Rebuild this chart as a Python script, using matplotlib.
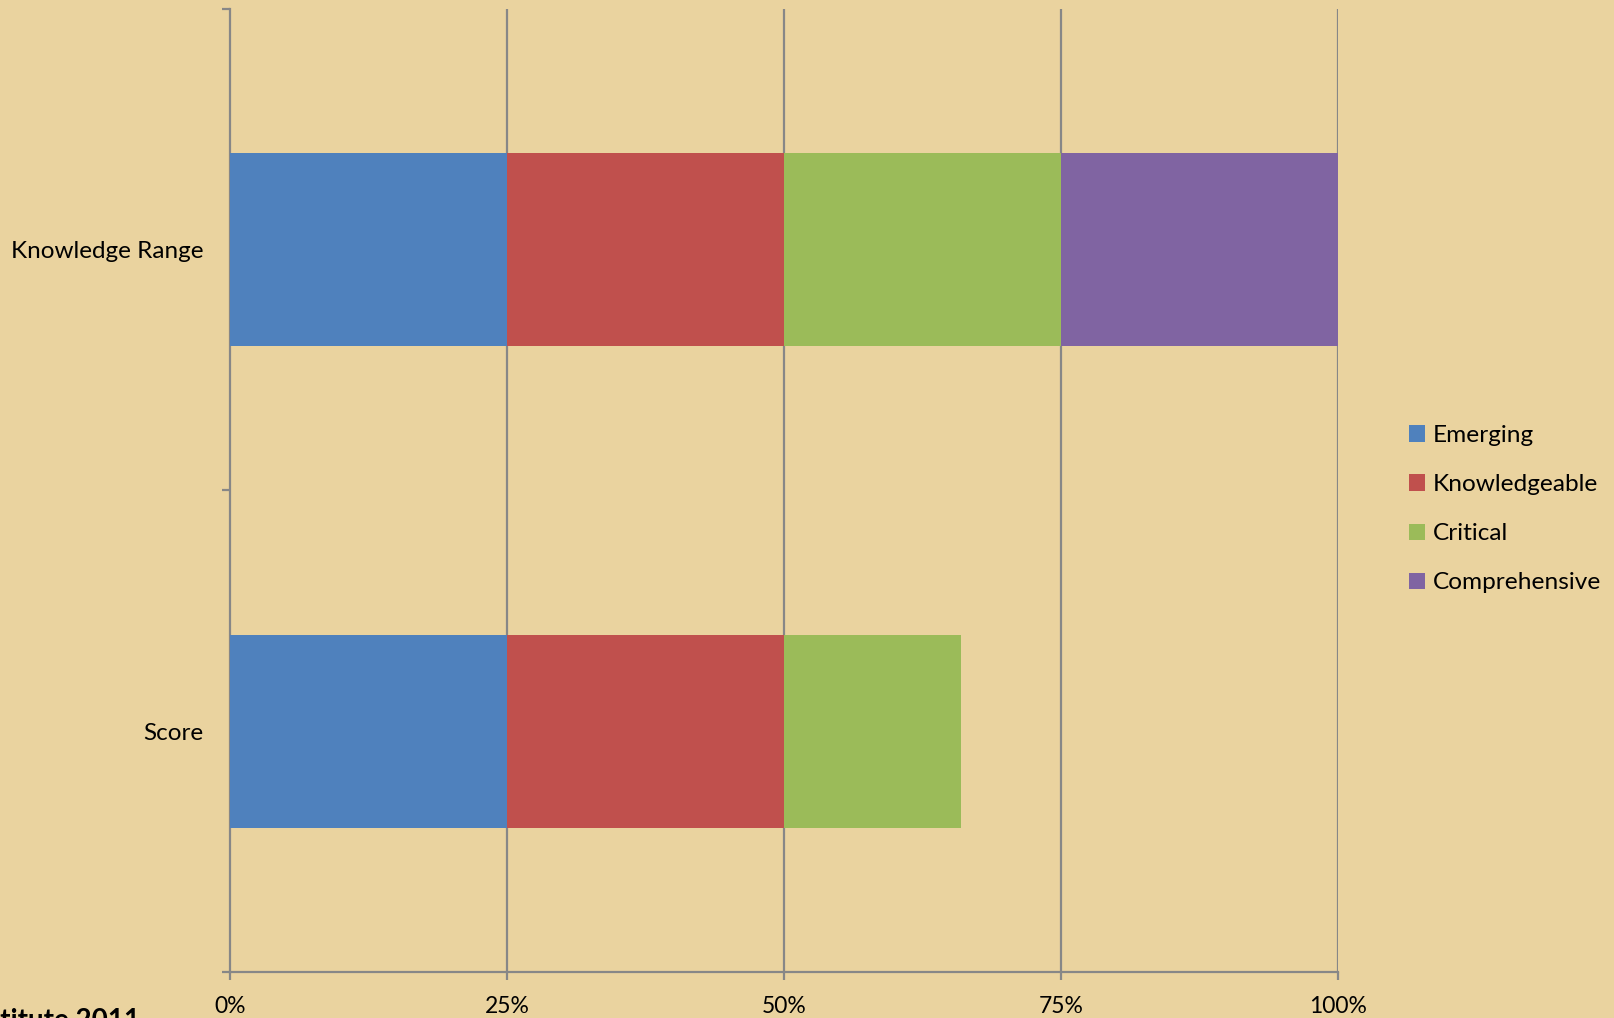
import matplotlib
matplotlib.use('Agg')
import matplotlib.pyplot as plt
import numpy as np

# data
categories = ['Score', 'Knowledge Range']
series = ['Emerging', 'Knowledgeable', 'Critical', 'Comprehensive']
emerging = [25, 25]
knowledgeable = [25, 25]
critical = [16, 25]
comprehensive = [0, 25]
colors = ['#4F81BD', '#C0504D', '#9BBB59', '#8064A2']
xticks = [0, 25, 50, 75, 100]
xtick_labels = ['0%', '25%', '50%', '75%', '100%']

plt.rcParams['font.family'] = ['Lato', 'DejaVu Sans']
bg = '#EAD39F'
axis_gray = '#878787'

fig = plt.figure(figsize=(16.15, 10.18), dpi=100, facecolor=bg)
ax = fig.add_axes([0.1424, 0.0452, 0.8285 - 0.1424, 0.9912 - 0.0452])
ax.set_facecolor(bg)

y = np.arange(len(categories))
left = np.zeros(len(categories))
values = [emerging, knowledgeable, critical, comprehensive]
for name, vals, c in zip(series, values, colors):
    ax.barh(y, vals, left=left, height=0.4, color=c, label=name, zorder=3)
    left += np.array(vals)

ax.set_xlim(0, 100)
ax.set_ylim(-0.5, 1.5)

# grid
for xv in xticks[1:]:
    ax.axvline(xv, color=axis_gray, lw=1.6, zorder=1)

for s in ['top', 'right']:
    ax.spines[s].set_visible(False)
for s in ['left', 'bottom']:
    ax.spines[s].set_color(axis_gray)
    ax.spines[s].set_linewidth(1.6)

ax.set_xticks(xticks)
ax.set_xticklabels(xtick_labels, fontsize=16.5)
ax.tick_params(axis='x', length=6, width=1.6, color=axis_gray, pad=11)

ax.set_yticks(y)
ax.set_yticklabels(categories, fontsize=17.5)
ax.set_yticks([-0.5, 0.5, 1.5], minor=True)
ax.tick_params(axis='y', which='major', length=0, pad=19)
ax.tick_params(axis='y', which='minor', length=6, width=1.6, color=axis_gray)

leg = fig.legend(loc='upper left', bbox_to_anchor=(0.859, 0.604), frameon=False,
                 fontsize=17.6, handlelength=0.65, handleheight=0.65,
                 handletextpad=0.3, labelspacing=1.15)

# cut-off source line at the bottom edge, as in the original
fig.text(140 / 1615, 1 - 1008 / 1018, 'Institute 2011', ha='right', va='top',
         fontsize=20, fontweight='bold')

fig.savefig('out.png', dpi=100, facecolor=bg)
